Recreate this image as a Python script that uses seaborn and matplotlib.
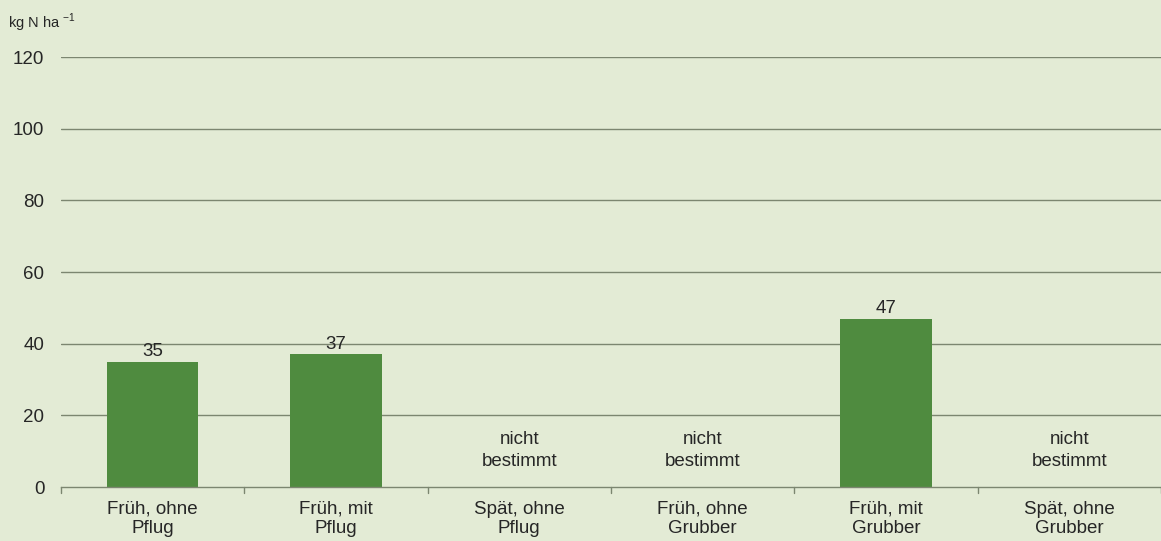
import numpy as np
import pandas as pd
import matplotlib
matplotlib.use("Agg")
import matplotlib.pyplot as plt
import seaborn as sns

# data
categories = ["Früh, ohne\nPflug", "Früh, mit\nPflug", "Spät, ohne\nPflug",
              "Früh, ohne\nGrubber", "Früh, mit\nGrubber", "Spät, ohne\nGrubber"]
values = [35, 37, np.nan, np.nan, 47, np.nan]
missing_label = "nicht\nbestimmt"
y_ticks = [0, 20, 40, 60, 80, 100, 120]

bg = "#E3EBD5"
bar_color = "#4F8B3F"
grid_color = "#7C8670"
txt = "#262626"

sns.set_theme(style="white")
plt.rcParams['font.family'] = ['Liberation Sans', 'DejaVu Sans']
plt.rcParams['mathtext.fontset'] = 'custom'
plt.rcParams['mathtext.rm'] = 'Liberation Sans'

df = pd.DataFrame({"cat": categories, "val": values})

fig = plt.figure(figsize=(11.61, 5.41), dpi=100, facecolor=bg)
ax = fig.add_axes([0.0525, 0.0998, 0.9475, 0.7948])
ax.set_facecolor(bg)

# gridlines first so bars sit on top
for t in y_ticks[1:]:
    ax.axhline(t, color=grid_color, lw=1.0, zorder=0)

sns.barplot(data=df, x="cat", y="val", color=bar_color, width=0.5,
            saturation=1, edgecolor="none", linewidth=0, ax=ax, zorder=2)

ax.set_ylim(0, 120)
ax.set_xlim(-0.5, len(categories) - 0.5)
ax.set_yticks(y_ticks)
ax.set_yticklabels([str(t) for t in y_ticks], fontsize=13.5, color=txt)
ax.set_xlabel("")
ax.set_ylabel("")

# x ticks between categories
ax.set_xticks(range(len(categories)))
ax.set_xticklabels(categories, fontsize=13.5, color=txt, linespacing=1.2)
ax.tick_params(axis="x", length=0, pad=10)
ax.tick_params(axis="y", length=0, pad=12)
for b in np.arange(-0.5, len(categories), 1.0):
    ax.plot([b, b], [0, -1.6], color=grid_color, lw=1, clip_on=False, zorder=3)

for s in ["top", "right", "left"]:
    ax.spines[s].set_visible(False)
ax.spines["bottom"].set_color(grid_color)
ax.spines["bottom"].set_linewidth(1.0)

# value labels / not determined labels
for i, v in enumerate(values):
    if np.isnan(v):
        ax.text(i, 10.2, missing_label, ha="center", va="center", fontsize=13.5,
                color=txt, linespacing=1.35)
    else:
        ax.text(i, v + 0.4, f"{v:.0f}", ha="center", va="bottom", fontsize=13.5,
                color=txt)

fig.text(0.007, 0.958, "kg N ha $^{\\mathrm{-1}}$", fontsize=10.5, color=txt,
         ha="left", va="center")

fig.savefig("out.png", dpi=100, facecolor=bg)
